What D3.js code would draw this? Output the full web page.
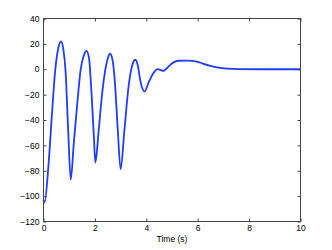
<!DOCTYPE html>
<html>
<head>
<meta charset="utf-8">
<script src="https://cdn.jsdelivr.net/npm/d3@7"></script>
<style>
  body { margin: 0; background: #fff; }
  text { font-family: "Liberation Sans", Arial, sans-serif; }
</style>
</head>
<body>
<div id="vis"></div>
<script>
// chart data
var timeVals = [0, 0.04, 0.2, 0.33, 0.46, 0.58, 0.68, 0.77, 0.86, 0.96, 1.06, 1.18, 1.31, 1.44, 1.57, 1.67, 1.77, 1.86, 1.96, 2.02,
    2.14, 2.27, 2.4, 2.5, 2.59, 2.68, 2.77, 2.89, 3.0, 3.15, 3.31, 3.44, 3.57, 3.67, 3.76, 3.93, 4.1, 4.28, 4.44, 4.56,
    4.67, 4.8, 4.93, 5.1, 5.26, 5.6, 5.97, 6.2, 6.49, 6.8, 7.14, 7.6, 8.5, 10];
var respVals = [-103, -105, -74, -35, 0, 17, 22, 16, -2, -48, -87, -58, -28, -1, 11, 14.5, 9, -16, -53, -73.5,
    -50, -21.5, -1, 8.5, 12.2, 8, -8, -47.7, -78.7, -47.7, -13.6, 2.2, 7.5, 3, -8.3, -17.5, -10, -3, 0.1, -0.6,
    -1.2, 0.8, 3.5, 5.8, 6.7, 6.8, 6.1, 4.5, 2.7, 1.3, 0.5, 0.1, 0, 0];
var xTicks = [0, 2, 4, 6, 8, 10];
var yTicks = [-120, -100, -80, -60, -40, -20, 0, 20, 40];
var xLabel = "Time (s)";

var width = 332;
var height = 250;
var margin = { top: 18.5, left: 43.5, right: 31.5, bottom: 28.5 };

var svg = d3.select("#vis")
    .append("svg")
    .attr("width", width)
    .attr("height", height)
    .append("g")
    .attr("transform", "translate(" + margin.left + "," + margin.top + ")");

var w = width - margin.left - margin.right;
var h = height - margin.top - margin.bottom;

var xscale = d3.scaleLinear().domain([0, 10]).range([0, w]);
var yscale = d3.scaleLinear().domain([-120, 40]).range([h, 0]);

var axisColor = "#444";

// bottom + left axes, ticks point inward
var xaxis = d3.axisBottom(xscale).tickValues(xTicks).tickSize(-3).tickPadding(3).tickFormat(d3.format("d"));
var yaxis = d3.axisLeft(yscale).tickValues(yTicks).tickSize(-3).tickPadding(4).tickFormat(d3.format("d"));
// mirrored ticks on top + right
var xtop = d3.axisTop(xscale).tickValues(xTicks).tickSize(-3).tickFormat("");
var yright = d3.axisRight(yscale).tickValues(yTicks).tickSize(-3).tickFormat("");

function styleAxis(g) {
    g.select(".domain").remove();
    g.selectAll("line").attr("stroke", axisColor);
    g.selectAll("text").attr("fill", "#000").style("font-size", "8.5px")
        .style("font-family", '"Liberation Sans", Arial, sans-serif');
}

svg.append("g").attr("transform", "translate(0," + h + ")").call(xaxis).call(styleAxis);
svg.append("g").call(yaxis).call(styleAxis);
svg.append("g").call(xtop).call(styleAxis);
svg.append("g").attr("transform", "translate(" + w + ",0)").call(yright).call(styleAxis);

// data line
var pts = timeVals.map(function(t, i) { return [t, respVals[i]]; });
var line = d3.line()
    .x(function(d) { return xscale(d[0]); })
    .y(function(d) { return yscale(d[1]); })
    .curve(d3.curveMonotoneX);

svg.append("path")
    .datum(pts)
    .attr("fill", "none")
    .attr("stroke", "#1f3cff")
    .attr("stroke-width", 1.8)
    .attr("stroke-linejoin", "round")
    .attr("d", line);

// axes box
svg.append("rect")
    .attr("x", 0).attr("y", 0)
    .attr("width", w).attr("height", h)
    .attr("fill", "none")
    .attr("stroke", axisColor)
    .attr("stroke-width", 1);

// x-axis label
svg.append("text")
    .attr("x", w / 2)
    .attr("y", h + 20)
    .attr("text-anchor", "middle")
    .style("font-size", "8.5px")
    .text(xLabel);
</script>
</body>
</html>
